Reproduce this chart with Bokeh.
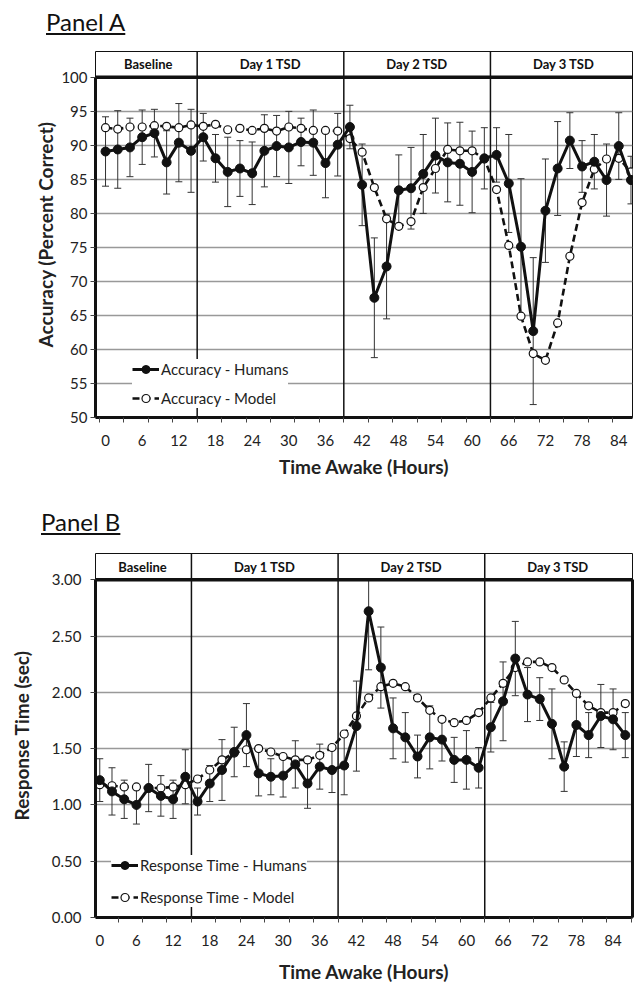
from bokeh.plotting import figure
from bokeh.models import (ColumnDataSource, Whisker, TeeHead, Span, Legend, LegendItem,
                          FixedTicker, LinearAxis, Range1d, PrintfTickFormatter, Div)
from bokeh.layouts import column
from bokeh.embed import file_html
from bokeh.resources import INLINE
from bokeh.core.properties import value

# ---------------- data ----------------
hours = list(range(0, 88, 2))

acc_humans = [89.1, 89.4, 89.7, 91.2, 91.8, 87.5, 90.4, 89.2, 91.2, 88.1, 86.1,
              86.6, 85.9, 89.2, 89.9, 89.7, 90.5, 90.4, 87.4, 90.1, 92.7,
              84.2, 67.6, 72.2, 83.4, 83.7, 85.8, 88.5, 87.5, 87.3, 86.1, 88.1,
              88.6, 84.4, 75.1, 62.7, 80.4, 86.6, 90.7, 86.9, 87.6, 84.9, 89.9, 84.9]
acc_model = [92.6, 92.4, 92.7, 92.7, 92.9, 92.8, 92.6, 93.0, 92.8, 93.1, 92.3,
             92.5, 92.2, 92.5, 92.1, 92.7, 92.5, 92.2, 92.2, 92.1, 91.0,
             89.0, 83.8, 79.2, 78.1, 78.8, 83.8, 86.6, 89.4, 89.2, 89.2, 88.0,
             83.5, 75.3, 64.9, 59.4, 58.4, 63.9, 73.7, 81.6, 86.5, 88.0, 88.1, 86.1]
acc_err = [5.1, 5.7, 4.3, 4.0, 3.5, 4.65, 5.75, 6.1, 3.5, 3.5, 5.1,
           4.1, 4.6, 5.3, 4.5, 5.3, 3.5, 4.8, 5.1, 4.6, 3.2,
           6.0, 8.8, 7.7, 5.2, 6.0, 5.8, 5.5, 5.8, 6.1, 6.0, 4.5,
           4.0, 7.2, 10.0, 10.8, 7.6, 6.9, 4.1, 3.8, 4.0, 5.3, 4.9, 3.5]

rt_humans = [1.22, 1.12, 1.05, 1.00, 1.15, 1.08, 1.05, 1.25, 1.03, 1.19, 1.31,
             1.47, 1.62, 1.28, 1.25, 1.26, 1.36, 1.19, 1.34, 1.31, 1.35,
             1.70, 2.72, 2.22, 1.68, 1.60, 1.43, 1.60, 1.58, 1.40, 1.40, 1.33,
             1.69, 1.92, 2.30, 1.98, 1.94, 1.72, 1.34, 1.71, 1.62, 1.79, 1.76, 1.62]
rt_model = [1.18, 1.17, 1.16, 1.16, 1.15, 1.15, 1.16, 1.18, 1.23, 1.31, 1.40,
            1.46, 1.49, 1.50, 1.47, 1.43, 1.40, 1.40, 1.44, 1.51, 1.63,
            1.79, 1.95, 2.05, 2.08, 2.05, 1.95, 1.84, 1.76, 1.73, 1.75, 1.82,
            1.95, 2.08, 2.22, 2.27, 2.27, 2.22, 2.11, 1.99, 1.88, 1.82, 1.82, 1.90]
rt_err = [0.19, 0.21, 0.17, 0.17, 0.21, 0.18, 0.17, 0.24, 0.12, 0.16, 0.27,
          0.22, 0.28, 0.20, 0.16, 0.19, 0.21, 0.22, 0.20, 0.20, 0.26,
          0.40, 0.52, 0.36, 0.27, 0.22, 0.19, 0.28, 0.19, 0.20, 0.26, 0.18,
          0.22, 0.35, 0.33, 0.24, 0.19, 0.31, 0.22, 0.28, 0.20, 0.28, 0.27, 0.20]

period_names = ["Baseline", "Day 1 TSD", "Day 2 TSD", "Day 3 TSD"]
period_edges = [-1, 15, 39, 63, 87]
x_tick_labels = list(range(0, 85, 6))
x_minor_ticks = list(range(-1, 88, 4))
acc_ticks = list(range(50, 101, 5))
rt_ticks = [0.0, 0.5, 1.0, 1.5, 2.0, 2.5, 3.0]

FONT = "Lato"
INK = "#111111"
PAGE_W = 635
BL, BR = 95, 3     # shared left/right borders (column aligns plot frames)


def make_title(text, height, pad_left, pad_top):
    html = (f'<div style="padding:{pad_top}px 0 0 {pad_left}px; font-family:{FONT}; '
            f'font-size:24px; line-height:28.8px; color:{INK}; white-space:nowrap;">'
            f'<span style="text-decoration:underline; text-decoration-thickness:1.5px; '
            f'text-underline-offset:2px;">{text}</span></div>')
    return Div(text=html, width=PAGE_W, height=height, margin=0)


def make_panel(cfg):
    ymin, ymax, htop = cfg["ymin"], cfg["ymax"], cfg["htop"]
    p = figure(width=PAGE_W, height=cfg["height"], title=None,
               x_range=Range1d(*cfg["xr"]), y_range=Range1d(ymin, htop),
               output_backend="svg", toolbar_location=None,
               min_border_left=BL, min_border_right=BR,
               min_border_top=cfg["bt"], min_border_bottom=cfg["bb"])
    p.background_fill_color = "white"
    p.border_fill_color = "white"
    p.outline_line_color = INK
    p.outline_line_width = 1

    # x axis
    xa = p.xaxis[0]
    xa.ticker = FixedTicker(ticks=x_tick_labels, minor_ticks=x_minor_ticks)
    xa.major_tick_in = 0
    xa.major_tick_out = 0
    xa.minor_tick_in = 0
    xa.minor_tick_out = 5
    xa.minor_tick_line_color = "#444"
    xa.axis_line_width = 3
    xa.axis_line_color = INK
    xa.major_label_text_font = FONT
    xa.major_label_text_font_size = "15px"
    xa.major_label_text_color = "#222"
    xa.major_label_standoff = cfg["xlab_standoff"]
    xa.axis_label = "Time Awake (Hours)"
    xa.axis_label_text_font = FONT
    xa.axis_label_text_font_size = "19px"
    xa.axis_label_text_font_style = "bold"
    xa.axis_label_text_color = "#222"
    xa.axis_label_standoff = cfg["xtitle_standoff"]

    # y axis
    ya = p.yaxis[0]
    ya.ticker = FixedTicker(ticks=cfg["yticks"])
    ya.bounds = (ymin, ymax)
    if cfg["fmt"]:
        ya.formatter = PrintfTickFormatter(format=cfg["fmt"])
    ya.major_tick_in = 0
    ya.major_tick_out = 5
    ya.minor_tick_in = 0
    ya.minor_tick_out = 0
    ya.major_tick_line_color = "#444"
    ya.axis_line_width = 3
    ya.axis_line_color = INK
    ya.major_label_text_font = FONT
    ya.major_label_text_font_size = "15px"
    ya.major_label_text_color = "#222"
    ya.major_label_standoff = cfg["ylab_standoff"]
    ya.axis_label = cfg["ylabel"]
    ya.axis_label_text_font = FONT
    ya.axis_label_text_font_size = "19px"
    ya.axis_label_text_font_style = "bold"
    ya.axis_label_text_color = "#222"
    ya.axis_label_standoff = cfg["ytitle_standoff"]

    if cfg["right_axis"]:
        ra = LinearAxis(bounds=(ymin, ymax), ticker=FixedTicker(ticks=[]),
                        axis_line_width=3, axis_line_color=INK,
                        major_tick_out=0, major_tick_in=0, minor_tick_out=0, minor_tick_in=0,
                        major_label_text_font_size="0px")
        p.add_layout(ra, "right")

    # grid
    p.xgrid.visible = False
    p.ygrid.ticker = FixedTicker(ticks=[t for t in cfg["yticks"] if ymin < t < ymax])
    p.ygrid.grid_line_color = "#999999"
    p.ygrid.grid_line_width = 1.5

    # period dividers and header
    for e in period_edges[1:-1]:
        p.add_layout(Span(location=e, dimension="height", line_color=INK,
                          line_width=1.5, level="underlay"))
    p.add_layout(Span(location=ymax, dimension="width", line_color=INK, line_width=3.5))
    mids = [(a + b) / 2 for a, b in zip(period_edges[:-1], period_edges[1:])]
    hsrc = ColumnDataSource(dict(x=mids, y=[(ymax + htop) / 2] * len(mids), t=period_names))
    p.text(x="x", y="y", text="t", source=hsrc, text_font=value(FONT),
           text_font_style="bold", text_font_size="13px", text_align="center",
           text_baseline="middle", text_color=INK)

    # data
    hum, mod, err = cfg["humans"], cfg["model"], cfg["err"]
    src = ColumnDataSource(dict(
        x=hours, h=hum, m=mod,
        upper=[min(a + e, ymax) for a, e in zip(hum, err)],
        lower=[max(a - e, ymin) for a, e in zip(hum, err)]))
    wh = Whisker(base="x", upper="upper", lower="lower", source=src,
                 line_color="#333", line_width=1, level="underlay",
                 upper_head=TeeHead(size=7, line_color="#333", line_width=1),
                 lower_head=TeeHead(size=7, line_color="#333", line_width=1))
    p.add_layout(wh)

    lm = p.line("x", "m", source=src, line_color=INK, line_width=2.6, line_dash="7 4")
    sm = p.scatter("x", "m", source=src, size=8, marker="circle",
                   fill_color="white", line_color=INK, line_width=1.2)
    lh = p.line("x", "h", source=src, line_color=INK, line_width=3)
    sh = p.scatter("x", "h", source=src, size=9, marker="circle",
                   fill_color=INK, line_color=INK)

    leg = Legend(items=[LegendItem(label=cfg["names"][0], renderers=[lh, sh]),
                        LegendItem(label=cfg["names"][1], renderers=[lm, sm])],
                 location=cfg["legend_loc"], orientation="vertical",
                 background_fill_color="white", background_fill_alpha=1.0,
                 border_line_color=None, padding=10, margin=0,
                 spacing=cfg["legend_spacing"], glyph_width=27, glyph_height=20,
                 label_standoff=2, label_text_font=FONT, label_text_font_size="15px",
                 label_text_color="#222", label_height=20)
    p.add_layout(leg)
    return p


ta = make_title("Panel A", 40, 46, 8)
pa = make_panel(dict(
    ylabel="Accuracy (Percent Correct)",
    humans=acc_humans, model=acc_model, err=acc_err,
    names=["Accuracy - Humans", "Accuracy - Model"],
    xr=(-1.64, 86.25),
    ymin=50, ymax=100, htop=103.8, yticks=acc_ticks, fmt=None,
    height=446, bt=11, bb=69,
    xlab_standoff=12, xtitle_standoff=6, ylab_standoff=3, ytitle_standoff=1,
    legend_loc=(37, 9), legend_spacing=9, right_axis=False))

tb = make_title("Panel B", 54, 41, 22)
pb = make_panel(dict(
    ylabel="Response Time (sec)",
    humans=rt_humans, model=rt_model, err=rt_err,
    names=["Response Time - Humans", "Response Time - Model"],
    xr=(-0.70, 87.18),
    ymin=0.0, ymax=3.0, htop=3.233, yticks=rt_ticks, fmt="%.2f",
    height=445, bt=13, bb=67,
    xlab_standoff=12, xtitle_standoff=11, ylab_standoff=9, ytitle_standoff=16,
    legend_loc=(16, 10), legend_spacing=12, right_axis=True))

layout = column(ta, pa, tb, pb, spacing=0)
open("out.html", "w").write(file_html(layout, INLINE))
